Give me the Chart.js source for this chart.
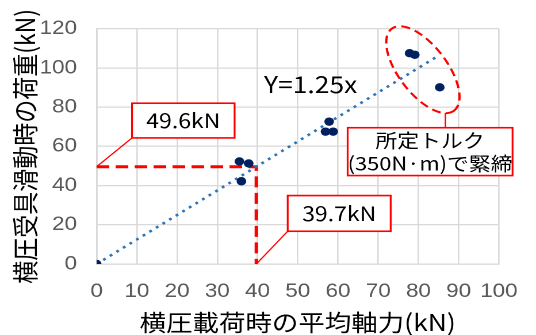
<!DOCTYPE html>
<html>
<head>
<meta charset="utf-8">
<script src="https://cdn.jsdelivr.net/npm/chart.js@4/dist/chart.umd.min.js"></script>
<style>
  html, body { margin: 0; padding: 0; background: #fff; overflow: hidden; }
  #chart { display: block; }
</style>
</head>
<body>
<canvas id="chart" width="466" height="345" style="width:536px;height:345px"></canvas>
<script>
// Measured axial force vs. slip load of the lateral-pressure receiver
const axialForce = [0, 35.5, 37.8, 36.0, 57.8, 56.9, 58.8, 77.8, 79.1, 85.3];
const slipLoad   = [0, 52.3, 51.3, 42.2, 72.6, 67.5, 67.5, 107.5, 106.7, 90.1];

// Fitted line Y = 1.25x, drawn over the measured range
const trendSlope = 1.25;
const trendRange = [0, 85];

// Design point
const designAxial = 39.7;
const designLoad = 49.6;

// Axis ticks
const xTickValues = [0, 10, 20, 30, 40, 50, 60, 70, 80, 90, 100];
const yTickValues = [0, 20, 40, 60, 80, 100, 120];

const xTitle = '横圧載荷時の平均軸力(kN)';
const yTitle = '横圧受具滑動時の荷重(kN)';

const pointData = axialForce.map((v, i) => ({ x: v, y: slipLoad[i] }));
const trendData = trendRange.map(v => ({ x: v, y: trendSlope * v }));
const guideData = [
  { x: 0, y: designLoad },
  { x: designAxial, y: designLoad },
  { x: designAxial, y: 0 }
];

const RED = '#ff0000';
const CJK = '"Noto Sans CJK JP", "Noto Sans", sans-serif';

// Callouts and the highlight ellipse, placed in data units
const notes = {
  loadBox:  { x0: 8.8, x1: 34.3, y0: 82.0, y1: 64.3, text: [designLoad + 'kN'], to: { x: 0, y: designLoad } },
  axialBox: { x0: 47.5, x1: 73.1, y0: 34.9, y1: 16.7, text: [designAxial + 'kN'], to: { x: designAxial, y: 0 } },
  torqueBox:{ x0: 62.4, x1: 103.4, y0: 69.5, y1: 45.1, text: ['所定トルク', '(350N·m)で緊締'] },
  ellipse:  { cx: 81.1, cy: 99.1, u: { x: 7.8, y: -20.8 }, v: { x: -4.7, y: -7.6 } },
  stem:     { x: 86.7, y0: 77.1, y1: 69.5 },
  equation: { x: 41.6, y: 91.6, text: 'Y=1.25x' }
};

const overlay = {
  id: 'overlay',
  afterDraw(chart) {
    const { ctx, scales: { x, y } } = chart;
    const px = v => x.getPixelForValue(v);
    const py = v => y.getPixelForValue(v);
    ctx.save();

    // dashed ellipse around the torque-tightened specimens
    const e = notes.ellipse;
    ctx.beginPath();
    for (let i = 0; i <= 120; i++) {
      const t = i / 120 * Math.PI * 2;
      const dx = e.cx + e.u.x * Math.cos(t) + e.v.x * Math.sin(t);
      const dy = e.cy + e.u.y * Math.cos(t) + e.v.y * Math.sin(t);
      if (i === 0) ctx.moveTo(px(dx), py(dy)); else ctx.lineTo(px(dx), py(dy));
    }
    ctx.closePath();
    ctx.strokeStyle = RED;
    ctx.lineWidth = 2;
    ctx.setLineDash([8, 4.5]);
    ctx.stroke();
    ctx.setLineDash([]);

    // stem from ellipse to its box
    ctx.lineWidth = 1.3;
    ctx.beginPath();
    ctx.moveTo(px(notes.stem.x), py(notes.stem.y0));
    ctx.lineTo(px(notes.stem.x), py(notes.stem.y1));
    ctx.stroke();

    // equation label
    ctx.fillStyle = '#000';
    ctx.font = '23px ' + CJK;
    ctx.textAlign = 'left';
    ctx.textBaseline = 'middle';
    ctx.fillText(notes.equation.text, px(notes.equation.x), py(notes.equation.y));

    // boxed callouts
    const drawBox = (b, size, gap) => {
      const l = px(b.x0), r = px(b.x1), t = py(b.y0), btm = py(b.y1);
      if (b.to) {
        ctx.strokeStyle = RED;
        ctx.lineWidth = 1.2;
        ctx.beginPath();
        ctx.moveTo(l, btm);
        ctx.lineTo(px(b.to.x), py(b.to.y));
        ctx.stroke();
      }
      ctx.fillStyle = '#fff';
      ctx.fillRect(l, t, r - l, btm - t);
      ctx.strokeStyle = RED;
      ctx.lineWidth = 1.6;
      ctx.strokeRect(l, t, r - l, btm - t);
      ctx.fillStyle = '#000';
      ctx.font = size + 'px ' + CJK;
      ctx.textAlign = 'center';
      ctx.textBaseline = 'middle';
      const cx = (l + r) / 2, cy = (t + btm) / 2;
      const n = b.text.length;
      b.text.forEach((s, i) => ctx.fillText(s, cx, cy + (i - (n - 1) / 2) * gap));
    };
    drawBox(notes.loadBox, 20, 0);
    drawBox(notes.axialBox, 20, 0);
    drawBox(notes.torqueBox, 19, 23);

    ctx.restore();
  }
};

new Chart(document.getElementById('chart'), {
  type: 'scatter',
  data: {
    datasets: [
      {
        label: 'measured',
        data: pointData,
        backgroundColor: '#002060',
        borderColor: '#002060',
        borderWidth: 0,
        pointRadius: 4.2,
        pointHoverRadius: 4.2,
        order: 0
      },
      {
        label: 'trend',
        type: 'line',
        data: trendData,
        borderColor: '#2e75b6',
        borderWidth: 2.5,
        borderDash: [2.5, 4.5],
        pointRadius: 0,
        fill: false,
        tension: 0,
        order: 1
      },
      {
        label: 'guide',
        type: 'line',
        data: guideData,
        borderColor: RED,
        borderWidth: 3,
        borderDash: [11, 5.5],
        pointRadius: 0,
        fill: false,
        tension: 0,
        order: 2
      }
    ]
  },
  options: {
    responsive: false,
    devicePixelRatio: 2,
    animation: false,
    events: [],
    layout: { padding: { top: 27, right: 25, left: 0, bottom: 0 } },
    plugins: { legend: { display: false }, tooltip: { enabled: false } },
    scales: {
      x: {
        type: 'linear',
        min: 0, max: 100,
        afterBuildTicks: s => { s.ticks = xTickValues.map(v => ({ value: v })); },
        afterFit: s => { s.height = 81; },
        grid: { color: '#d9d9d9', lineWidth: 1.3, drawTicks: false },
        border: { color: '#d9d9d9', width: 1.3 },
        ticks: { color: '#595959', font: { family: '"Liberation Sans", Arial, sans-serif', size: 19.5 }, padding: 16, maxRotation: 0, autoSkip: false },
        title: { display: true, text: xTitle, color: '#000', font: { family: CJK, size: 23 }, padding: { top: 0, bottom: 9 } }
      },
      y: {
        type: 'linear',
        min: 0, max: 120,
        afterBuildTicks: s => { s.ticks = yTickValues.map(v => ({ value: v })); },
        afterFit: s => { s.width = 84; },
        grid: { color: '#d9d9d9', lineWidth: 1.3, drawTicks: false },
        border: { color: '#d9d9d9', width: 1.3 },
        ticks: { color: '#595959', font: { family: '"Liberation Sans", Arial, sans-serif', size: 19.5 }, padding: 17, autoSkip: false },
        title: { display: true, text: yTitle, color: '#000', font: { family: CJK, size: 23 }, padding: { top: 8, bottom: 0 } }
      }
    }
  },
  plugins: [overlay]
});
</script>
</body>
</html>
